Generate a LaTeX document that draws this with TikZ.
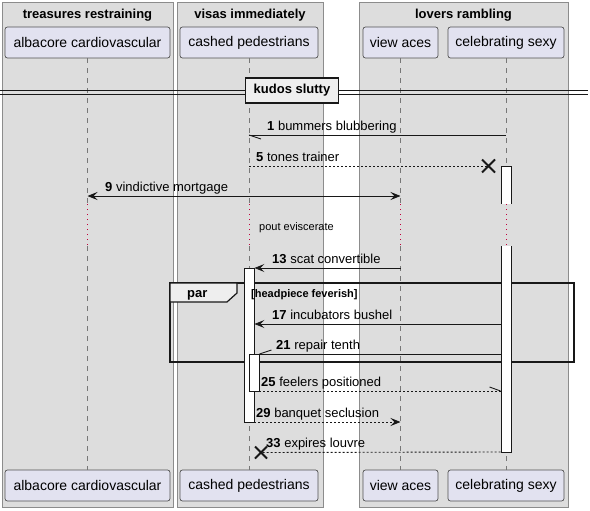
\documentclass[tikz,border=0pt]{standalone}
\usepackage{fontspec}
\setmainfont{Liberation Sans}
\usepackage{tikz}
\usetikzlibrary{arrows.meta,positioning}
\usepackage{xcolor}
\definecolor{boxgray}{HTML}{DDDDDD}
\definecolor{boxline}{HTML}{8C8C8C}
\definecolor{actorfill}{HTML}{E2E2F0}
\definecolor{ink}{HTML}{181818}
\definecolor{lifegray}{HTML}{777777}
\definecolor{delayred}{HTML}{C0003C}
\definecolor{tabfill}{HTML}{EEEEEE}

\begin{document}
\begin{tikzpicture} [
  x = 1pt, y = -1pt,
  every node/.style = { inner sep = 0 },
  group/.style = { fill = boxgray, draw = boxline, line width = 0.8pt },
  grouptitle/.style = { font = \bfseries\fontsize{13}{15}\selectfont },
  actor/.style = { draw = ink!75, fill = actorfill, rounded corners = 2.5pt, line width = 0.7pt, minimum height = 31pt, font = \fontsize{14}{16}\selectfont },
  lifeline/.style = { draw = lifegray, line width = 0.7pt, dash pattern = on 5pt off 5pt },
  delayline/.style = { draw = delayred, line width = 0.9pt, dash pattern = on 1pt off 4pt },
  activation/.style = { draw = ink, fill = white, line width = 0.9pt, minimum width = 10pt, anchor = north },
  msg/.style = { draw = ink, line width = 0.9pt },
  reply/.style = { msg, dash pattern = on 2pt off 2pt },
  pointed/.style = { -{Stealth[length = 10pt, width = 8pt, inset = 4pt]} },
  bothways/.style = { {Stealth[length = 10pt, width = 8pt, inset = 4pt]}-{Stealth[length = 10pt, width = 8pt, inset = 4pt]} },
  msglabel/.style = { anchor = base west, font = \fontsize{13}{15}\selectfont },
  kill/.style = { draw = ink, line width = 1.8pt },
  ]

  \useasboundingbox (0,0) rectangle (590,511);

  % boxes
  \draw[group] (2,2) rectangle (173,507);
  \node[grouptitle] (treasures) at (87.5,15) {treasures restraining};
  \draw[group] (177,2) rectangle (323,507);
  \node[grouptitle] (visas) at (250,15) {visas immediately};
  \draw[group] (359,2) rectangle (568,507);
  \node[grouptitle] (lovers) at (463.5,15) {lovers rambling};

  % participants
  \node[actor, minimum width = 165pt] (alb) at (87.5,42.5) {albacore cardiovascular};
  \node[actor, minimum width = 138pt] (ped) at (249,42.5) {cashed pedestrians};
  \node[actor, minimum width = 75pt] (aces) at (400.5,42.5) {view aces};
  \node[actor, minimum width = 116pt] (sexy) at (506,42.5) {celebrating sexy};
  \node[actor, minimum width = 165pt] (alb-foot) at (87.5,485.5) {albacore cardiovascular};
  \node[actor, minimum width = 138pt] (ped-foot) at (249,485.5) {cashed pedestrians};
  \node[actor, minimum width = 75pt] (aces-foot) at (400.5,485.5) {view aces};
  \node[actor, minimum width = 116pt] (sexy-foot) at (506,485.5) {celebrating sexy};

  \coordinate (pause) at (0,204);
  \coordinate (resume) at (0,246);
  \foreach \p in {alb, ped, aces, sexy} {
    \draw[lifeline] (\p.south) -- (\p |- pause);
    \draw[delayline] (\p |- pause) -- (\p |- resume);
    \draw[lifeline] (\p |- resume) -- (\p-foot.north);
  }

  % divider
  \draw[ink, line width = 0.9pt] (0,90.5) -- (588,90.5) (0,94.5) -- (588,94.5);
  \node[draw = ink, fill = tabfill, line width = 1.6pt, minimum width = 93pt, minimum height = 25pt, font = \bfseries\fontsize{13}{15}\selectfont] (kudos) at (292,90.5) {kudos slutty};

  % par frame
  \draw[ink, line width = 1.6pt] (170,283) rectangle (574,362);
  \draw[ink, fill = tabfill, line width = 1.2pt] (170,283) -- (237,283) -- (237,293) -- (227,302) -- (170,302) -- cycle;
  \node[font = \bfseries\fontsize{13}{15}\selectfont, anchor = base west] (par) at (187,297.5) {par};

  \coordinate (y1) at (0,135);
  \coordinate (y5) at (0,166);
  \coordinate (y9) at (0,196);
  \coordinate (y13) at (0,268);
  \coordinate (y17) at (0,324);
  \coordinate (y21) at (0,354);
  \coordinate (y25) at (0,391);
  \coordinate (y29) at (0,422);
  \coordinate (y33) at (0,452);
  \coordinate (kill5) at (488.5,166);
  \coordinate (kill33) at (261,452.5);

  % activations
  \node[activation, minimum height = 286pt] (sexyBar) at (sexy |- y5) {};
  \fill[boxgray] ([xshift = -1pt]sexyBar.west |- pause) rectangle ([xshift = 1pt]sexyBar.east |- resume);
  \draw[delayline] (sexy |- pause) -- (sexy |- resume);
  \node[activation, minimum height = 154pt] (pedBar) at (ped |- y13) {};
  \node[activation, minimum height = 37pt, xshift = 5pt] (pedBar2) at (ped |- y21) {};

  \node[font = \bfseries\fontsize{11}{13}\selectfont, anchor = base west] (guard) at (251,297) {[headpiece feverish]};

  % messages
  \draw[msg] (sexy |- y1) -- (ped |- y1);
  \draw[msg] (ped |- y1) -- ++(12,4);
  \node[msglabel] (m1) at (267,130.5) {\textbf{1} bummers blubbering};

  \draw[reply] (ped |- y5) -- (kill5);
  \draw[kill] (kill5) +(-6.5,-6.5) -- +(6.5,6.5) +(-6.5,6.5) -- +(6.5,-6.5);
  \node[msglabel] (m5) at (256,161.5) {\textbf{5} tones trainer};

  \draw[msg, bothways] (alb |- y9) -- (aces |- y9);
  \node[msglabel] (m9) at (105,191.5) {\textbf{9} vindictive mortgage};

  \node[anchor = base west, font = \fontsize{11}{13}\selectfont] (delay) at (259,230) {pout eviscerate};

  \draw[msg, pointed] (aces |- y13) -- (pedBar.east |- y13);
  \node[msglabel] (m13) at (272,263.5) {\textbf{13} scat convertible};

  \draw[msg, pointed] (sexyBar.west |- y17) -- (pedBar.east |- y17);
  \node[msglabel] (m17) at (272,319.5) {\textbf{17} incubators bushel};

  \draw[msg] (sexyBar.west |- y21) -- (pedBar2.east |- y21);
  \draw[msg] (pedBar2.east |- y21) -- ++(12,-4);
  \node[msglabel] (m21) at (276,349.5) {\textbf{21} repair tenth};

  \draw[reply] (pedBar2.east |- y25) -- (sexyBar.west |- y25);
  \draw[msg] (sexyBar.west |- y25) -- ++(-11,-4);
  \node[msglabel] (m25) at (261,386.5) {\textbf{25} feelers positioned};

  \draw[reply, pointed] (pedBar.east |- y29) -- (aces |- y29);
  \node[msglabel] (m29) at (256,417.5) {\textbf{29} banquet seclusion};

  \draw[reply] (sexyBar.west |- y33) -- (kill33);
  \draw[kill] (kill33) +(-6,-6) -- +(6,6) +(-6,6) -- +(6,-6);
  \node[msglabel] (m33) at (266,447.5) {\textbf{33} expires louvre};
\end{tikzpicture}
\end{document}
